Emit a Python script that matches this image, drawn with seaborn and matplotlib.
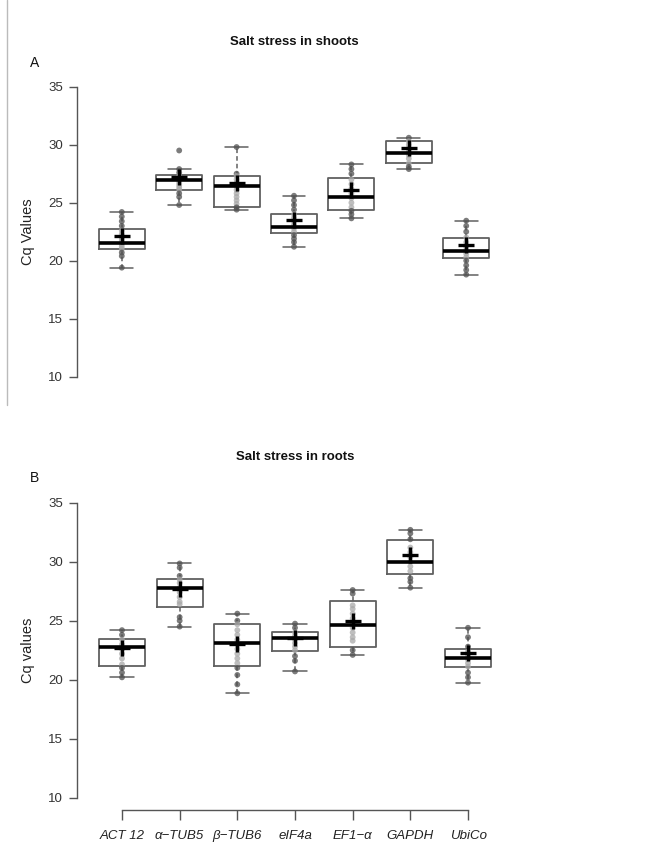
import numpy as np
import pandas as pd
import matplotlib
matplotlib.use("Agg")
import matplotlib.pyplot as plt
from matplotlib.lines import Line2D
import seaborn as sns

genes = ["ACT 12", "α\u2212TUB5", "β\u2212TUB6", "eIF4a", "EF1\u2212α", "GAPDH", "UbiCo"]

# five-number summaries [min, Q1, median, Q3, max]
shoot_stats = {
    "ACT 12": [19.4, 21.0, 21.5, 22.7, 24.2],
    "α\u2212TUB5": [24.8, 26.1, 27.0, 27.4, 27.9],
    "β\u2212TUB6": [24.4, 24.65, 26.4, 27.3, 29.8],
    "eIF4a": [21.2, 22.4, 22.9, 24.05, 25.6],
    "EF1\u2212α": [23.65, 24.4, 25.5, 27.1, 28.3],
    "GAPDH": [27.9, 28.4, 29.3, 30.35, 30.6],
    "UbiCo": [18.8, 20.25, 20.8, 22.0, 23.45],
}
root_stats = {
    "ACT 12": [20.2, 21.15, 22.8, 23.45, 24.2],
    "α\u2212TUB5": [24.5, 26.2, 27.8, 28.5, 29.85],
    "β\u2212TUB6": [18.85, 21.2, 23.15, 24.7, 25.6],
    "eIF4a": [20.7, 22.4, 23.5, 24.05, 24.75],
    "EF1\u2212α": [22.1, 22.8, 24.65, 26.7, 27.6],
    "GAPDH": [27.8, 28.95, 30.0, 31.8, 32.7],
    "UbiCo": [19.75, 21.05, 21.85, 22.6, 24.4],
}
shoot_means = [22.1, 27.2, 26.7, 23.5, 26.1, 29.7, 21.35]
root_means = [22.7, 27.7, 23.0, 23.5, 25.0, 30.55, 22.3]

# individual points visible along each box
shoot_points = {
    "ACT 12": [24.2, 23.8, 23.4, 23.0, 22.6, 22.3, 22.0, 21.8, 21.6, 21.4, 21.2, 21.0, 20.7, 20.4, 19.4],
    "α\u2212TUB5": [29.5, 27.9, 27.6, 27.3, 27.1, 26.9, 26.7, 26.5, 26.3, 26.1, 25.8, 25.5, 24.8],
    "β\u2212TUB6": [29.8, 27.5, 27.3, 27.0, 26.7, 26.4, 26.1, 25.8, 25.5, 25.2, 24.9, 24.6, 24.4],
    "eIF4a": [25.6, 25.2, 24.8, 24.4, 24.0, 23.7, 23.4, 23.1, 22.8, 22.5, 22.2, 21.9, 21.6, 21.2],
    "EF1\u2212α": [28.3, 27.9, 27.5, 27.0, 26.6, 26.2, 25.8, 25.4, 25.0, 24.6, 24.3, 24.0, 23.65],
    "GAPDH": [30.6, 30.3, 30.0, 29.7, 29.4, 29.1, 28.8, 28.4, 28.1, 27.9],
    "UbiCo": [23.45, 23.0, 22.5, 22.0, 21.6, 21.2, 20.9, 20.6, 20.3, 20.0, 19.6, 19.2, 18.8],
}
root_points = {
    "ACT 12": [24.2, 23.8, 23.4, 23.0, 22.6, 22.2, 21.8, 21.3, 21.0, 20.6, 20.2],
    "α\u2212TUB5": [29.85, 29.5, 28.8, 28.5, 28.2, 27.8, 27.4, 27.0, 26.6, 26.4, 25.3, 25.0, 24.5],
    "β\u2212TUB6": [25.6, 25.0, 24.7, 24.2, 23.8, 23.4, 23.0, 22.6, 22.2, 21.8, 21.4, 21.0, 20.4, 19.6, 18.85],
    "eIF4a": [24.75, 24.4, 24.0, 23.7, 23.4, 23.1, 22.8, 22.5, 22.0, 21.6, 20.7],
    "EF1\u2212α": [27.6, 27.3, 26.3, 26.0, 25.6, 25.2, 24.8, 24.4, 24.0, 23.6, 23.3, 22.5, 22.1],
    "GAPDH": [32.7, 32.4, 31.9, 31.2, 30.8, 30.4, 30.0, 29.6, 29.2, 28.6, 28.3, 27.8],
    "UbiCo": [24.4, 23.6, 22.8, 22.4, 22.0, 21.7, 21.4, 21.1, 20.6, 20.2, 19.75],
}
y_ticks = [10, 15, 20, 25, 30, 35]

sns.set_theme(style="white")
plt.rcParams["font.family"] = ["Liberation Sans", "DejaVu Sans"]

W, H = 672, 843
fig = plt.figure(figsize=(W / 100, H / 100), dpi=100)
ax1 = fig.add_axes([77 / W, 1 - 388.3 / H, 434 / W, (388.3 - 75.1) / H])
ax2 = fig.add_axes([77 / W, 1 - 809.5 / H, 436 / W, (809.5 - 490.9) / H])

box_col = "#606060"


def draw(ax, stats, points, means, title, ylabel, letter, show_x):
    df = pd.DataFrame([(g, v) for g in genes for v in stats[g]], columns=["gene", "value"])
    sns.boxplot(data=df, x="gene", y="value", order=genes, ax=ax, whis=(0, 100),
                fill=False, color=box_col, width=0.8, linewidth=1.3,
                boxprops=dict(zorder=2),
                medianprops=dict(color="black", linewidth=2.6, zorder=6),
                whiskerprops=dict(linestyle=(0, (3, 2)), color=box_col, linewidth=1.1),
                capprops=dict(color=box_col, linewidth=1.1),
                showfliers=False)
    rows = []
    for g in genes:
        q1, q3 = stats[g][1], stats[g][3]
        for v in points[g]:
            rows.append((g, v, "in" if q1 <= v <= q3 else "out"))
    pdf = pd.DataFrame(rows, columns=["gene", "value", "where"])
    sns.stripplot(data=pdf, x="gene", y="value", order=genes, hue="where",
                  hue_order=["in", "out"], palette={"in": "#a8a8a8", "out": "#505050"},
                  jitter=False, size=4.2, alpha=0.75, linewidth=0, ax=ax, legend=False, zorder=4)
    sns.stripplot(x=genes, y=means, order=genes, jitter=False, marker="+", size=11,
                  linewidth=2.4, color="black", ax=ax, zorder=8)
    ax.set_xlim(-0.78, 6.78)
    ax.set_ylim(9, 36)
    ax.set_yticks(y_ticks)
    ax.set_yticklabels([str(t) for t in y_ticks], fontsize=9.5, color="#333333")
    for s in ["top", "right"]:
        ax.spines[s].set_visible(False)
    ax.spines["left"].set_bounds(10, 35)
    ax.spines["left"].set_color("#555555")
    ax.spines["left"].set_linewidth(1.0)
    ax.tick_params(axis="y", direction="out", length=6, width=1.0, color="#555555", pad=4, left=True)
    ax.set_ylabel(ylabel, fontsize=10.5, color="#222222")
    ax.yaxis.set_label_coords(-0.097, 0.5)
    ax.set_title(title, fontsize=9.5, fontweight="bold", pad=22, color="#111111")
    ax.text(-0.097, 1.04, letter, transform=ax.transAxes, fontsize=10, color="#111111",
            ha="center", va="center")
    if show_x:
        ax.spines["bottom"].set_bounds(0, 6)
        ax.spines["bottom"].set_color("#555555")
        ax.spines["bottom"].set_linewidth(1.0)
        ax.set_xticks(range(len(genes)))
        ax.set_xticklabels(genes, fontsize=9.5, style="italic", color="#222222")
        ax.tick_params(axis="x", direction="out", length=7, width=1.0, color="#555555", pad=8, bottom=True)
    else:
        ax.spines["bottom"].set_visible(False)
        ax.set_xticks([])
    ax.set_xlabel("")


draw(ax1, shoot_stats, shoot_points, shoot_means, "Salt stress in shoots", "Cq Values", "A", False)
draw(ax2, root_stats, root_points, root_means, "Salt stress in roots", "Cq values", "B", True)

fig.add_artist(Line2D([7 / W, 7 / W], [1 - 405 / H, 1.0], transform=fig.transFigure,
                      color="#bbbbbb", linewidth=1.0))

fig.savefig("out.png", dpi=100, facecolor="white")
